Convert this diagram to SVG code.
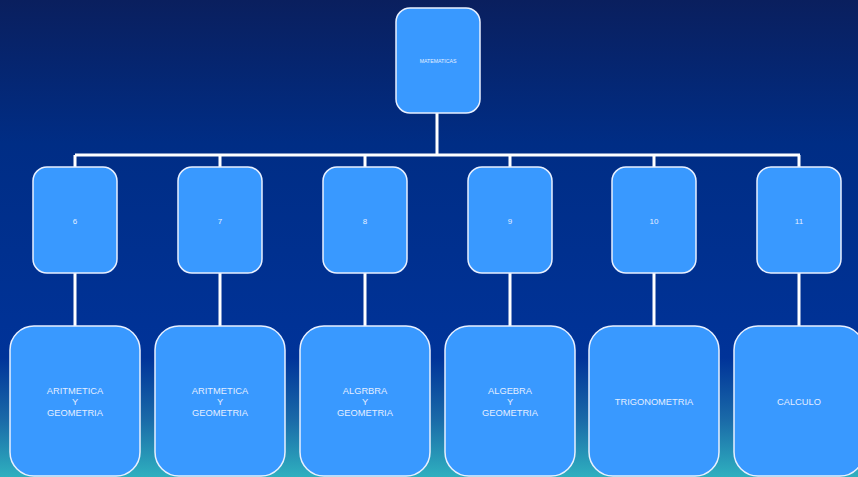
<svg xmlns="http://www.w3.org/2000/svg" width="858" height="477" viewBox="0 0 858 477">
<defs>
<linearGradient id="bg" x1="0" y1="0" x2="0" y2="1">
<stop offset="0" stop-color="#0a1f5e"/>
<stop offset="0.3" stop-color="#002d85"/>
<stop offset="0.75" stop-color="#003399"/>
<stop offset="0.88" stop-color="#1a6aa8"/>
<stop offset="1" stop-color="#2fb0bf"/>
</linearGradient>
<style>
.n{fill:#3999ff;stroke:#e8f0ff;stroke-width:1.5}
.t{font-family:"Liberation Sans",Arial,sans-serif;fill:#e4eeff;text-anchor:middle}
.c{stroke:#ffffff;stroke-width:3;fill:none}
</style>
</defs>
<rect width="858" height="477" fill="url(#bg)"/>
<g id="connectors">
<path class="c" d="M437 113V155M75 155H800M75 155V167M220 155V167M365 155V167M510 155V167M654 155V167M799 155V167"/>
<path class="c" d="M75 273V326M220 273V326M365 273V326M510 273V326M654 273V326M799 273V326"/>
</g>
<g id="n0"><rect class="n" x="396" y="8" width="84" height="105" rx="14"/><text class="t" x="438" y="63" font-size="5.2">MATEMATICAS</text></g>
<g id="n6"><rect class="n" x="33" y="167" width="84" height="106" rx="14"/><text class="t" x="75" y="224" font-size="8">6</text></g>
<g id="n7"><rect class="n" x="178" y="167" width="84" height="106" rx="14"/><text class="t" x="220" y="224" font-size="8">7</text></g>
<g id="n8"><rect class="n" x="323" y="167" width="84" height="106" rx="14"/><text class="t" x="365" y="224" font-size="8">8</text></g>
<g id="n9"><rect class="n" x="468" y="167" width="84" height="106" rx="14"/><text class="t" x="510" y="224" font-size="8">9</text></g>
<g id="n10"><rect class="n" x="612" y="167" width="84" height="106" rx="14"/><text class="t" x="654" y="224" font-size="8">10</text></g>
<g id="n11"><rect class="n" x="757" y="167" width="84" height="106" rx="14"/><text class="t" x="799" y="224" font-size="8">11</text></g>
<g id="a1"><rect class="n" x="10" y="326" width="130" height="150" rx="24"/><text class="t" x="75" font-size="9.3"><tspan x="75" y="394">ARITMETICA</tspan><tspan x="75" y="405">Y</tspan><tspan x="75" y="416">GEOMETRIA</tspan></text></g>
<g id="a2"><rect class="n" x="155" y="326" width="130" height="150" rx="24"/><text class="t" x="220" font-size="9.3"><tspan x="220" y="394">ARITMETICA</tspan><tspan x="220" y="405">Y</tspan><tspan x="220" y="416">GEOMETRIA</tspan></text></g>
<g id="a3"><rect class="n" x="300" y="326" width="130" height="150" rx="24"/><text class="t" x="365" font-size="9.3"><tspan x="365" y="394">ALGRBRA</tspan><tspan x="365" y="405">Y</tspan><tspan x="365" y="416">GEOMETRIA</tspan></text></g>
<g id="a4"><rect class="n" x="445" y="326" width="130" height="150" rx="24"/><text class="t" x="510" font-size="9.3"><tspan x="510" y="394">ALGEBRA</tspan><tspan x="510" y="405">Y</tspan><tspan x="510" y="416">GEOMETRIA</tspan></text></g>
<g id="a5"><rect class="n" x="589" y="326" width="130" height="150" rx="24"/><text class="t" x="654" y="405" font-size="9.3">TRIGONOMETRIA</text></g>
<g id="a6"><rect class="n" x="734" y="326" width="130" height="150" rx="24"/><text class="t" x="799" y="405" font-size="9.3">CALCULO</text></g>
</svg>
